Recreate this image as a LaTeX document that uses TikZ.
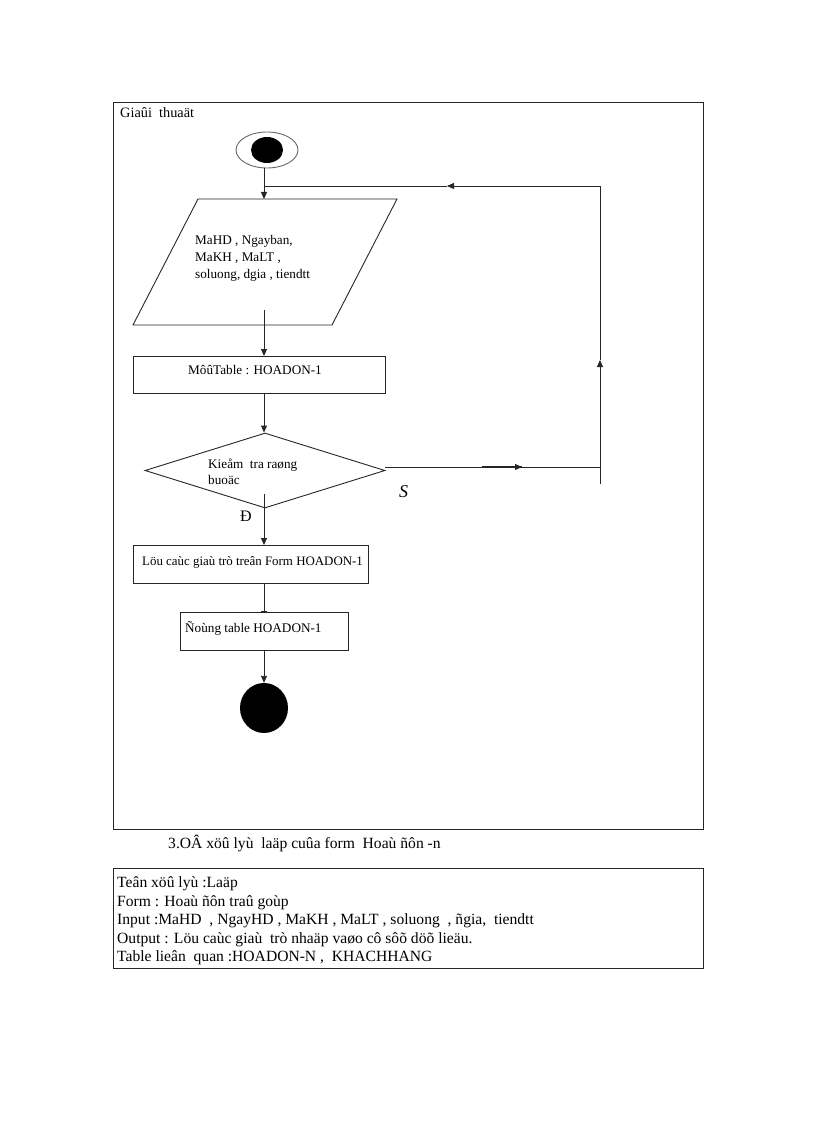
\documentclass[tikz,border=0pt]{standalone}
\usepackage{fontspec}
\setmainfont{Liberation Serif}
\usetikzlibrary{arrows.meta,shapes.geometric}
\begin{document}
\begin{tikzpicture}[x=1pt,y=-1pt]
\tikzset{
 ln/.style={line width=0.9pt, draw=black!85},
 arr/.style={ln, -{Triangle[length=7pt,width=6pt]}},
 box/.style={ln, rectangle, inner sep=0pt, anchor=north west},
 ftxt/.style={font=\fontsize{13.2}{15}\selectfont, anchor=base west, inner sep=0pt},
 btxt/.style={font=\fontsize{15.6}{18}\selectfont, anchor=base west, inner sep=0pt},
}
\useasboundingbox (0,0) rectangle (816,1123);
% frames
\node[box, minimum width=590, minimum height=727] (frame) at (113,102) {};
\node[box, minimum width=590, minimum height=100] (info) at (113,868) {};
\node[ftxt, font=\fontsize{14.3}{16}\selectfont] (title) at (120,118) {Giaûi\ \ thuaät};
% start
\node[ln, draw=black!60, ellipse, minimum width=62, minimum height=36, inner sep=0pt] (st) at (267,150) {};
\node[ellipse, fill=black, minimum width=32, minimum height=26, inner sep=0pt] (sti) at (267,150) {};
% parallelogram
\coordinate (pa) at (198,199);
\coordinate (pb) at (397,199);
\coordinate (pc) at (332,325);
\coordinate (pd) at (133,325);
\draw[ln] (pa) -- (pb) -- (pc) -- (pd) -- cycle;
\coordinate (ptop) at (264,199);
\coordinate (pin) at (264,310);
\node[ftxt] (p1) at (195,244) {MaHD , Ngayban,};
\node[ftxt] (p2) at (195,261) {MaKH , MaLT ,};
\node[ftxt] (p3) at (195,278) {soluong, dgia , tiendtt};
% boxes
\node[box, minimum width=252, minimum height=37] (r1) at (133,356) {};
\node[ftxt] (t1) at (188,374) {MôûTable : HOADON-1};
\node[ln, diamond, minimum width=240, minimum height=75, inner sep=0pt] (dec) at (265,470.5) {};
\node[ftxt] (d1) at (208,468) {Kieåm\ \ tra raøng};
\node[ftxt] (d2) at (208,484) {buoäc};
\node[anchor=base west, inner sep=0pt, font=\fontsize{18}{20}\selectfont\itshape] (sl) at (399,497) {S};
\node[anchor=base west, inner sep=0pt, font=\fontsize{16}{18}\selectfont] (dl) at (240,521) {Đ};
\coordinate (din) at (264,494);
\node[box, minimum width=235, minimum height=38] (r2) at (133,545) {};
\node[ftxt, font=\fontsize{12.9}{15}\selectfont] (t2) at (142,565) {Löu caùc giaù trò treân Form HOADON-1};
\node[box, minimum width=168, minimum height=38] (r3) at (180,612) {};
\node[ftxt] (t3) at (185,632) {Ñoùng table HOADON-1};
\node[ellipse, fill=black, minimum width=48, minimum height=50, inner sep=0pt] (en) at (264,708) {};
% connectors
\draw[arr] (st.south -| ptop) -- (ptop);
\draw[arr] (pin) -- (r1.north -| pin);
\draw[arr] (r1.south -| pin) -- (dec.north -| pin);
\draw[arr] (din) -- (r2.north -| din);
\draw[ln, -{Bar[width=6pt]}] (r2.south -| din) -- (r3.north -| din);
\draw[arr] (r3.south -| din) -- (en.north -| din);
% loop back
\coordinate (rs) at (385,467);
\coordinate (rk) at (482,467);
\coordinate (ra) at (522,467);
\coordinate (rc) at (600,467);
\coordinate (rb) at (600,484);
\coordinate (rm) at (600,360);
\coordinate (rt) at (600,186);
\coordinate (ta) at (447,186);
\coordinate (jt) at (264,186);
\draw[arr] (rs) -- (ra);
\draw[ln, line width=1.6pt] (rk) -- (ra);
\draw[ln] (ra) -- (rc);
\draw[arr] (rb) -- (rm);
\draw[ln] (rm) -- (rt);
\draw[arr] (rt) -- (ta);
\draw[ln] (ta) -- (jt);
% caption and info
\node[btxt] (cap) at (168,848) {3.OÂ xöû lyù\ \ laäp cuûa form\ \ Hoaù ñôn -n};
\node[btxt] (i1) at (117,887.5) {Teân xöû lyù :Laäp};
\node[btxt] (i2) at (117,906) {Form : Hoaù ñôn traû goùp};
\node[btxt] (i3) at (117,924.5) {Input :MaHD\ \ , NgayHD , MaKH , MaLT , soluong\ \ , ñgia,\ \ tiendtt};
\node[btxt] (i4) at (117,943) {Output : Löu caùc giaù\ \ trò nhaäp vaøo cô sôõ döõ lieäu.};
\node[btxt] (i5) at (117,961.5) {Table lieân\ \ quan :HOADON-N ,\ \ KHACHHANG};
\end{tikzpicture}
\end{document}
